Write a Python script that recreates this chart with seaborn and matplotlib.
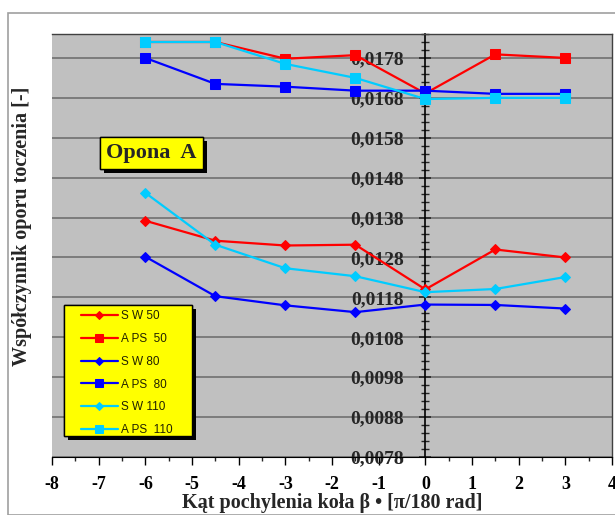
import numpy as np
import pandas as pd
import matplotlib
matplotlib.use('Agg')
import matplotlib.pyplot as plt
import matplotlib.patheffects as pe
from matplotlib.patches import Rectangle
from matplotlib.ticker import FuncFormatter, MultipleLocator, FixedLocator
import seaborn as sns

# dane
beta = [-6, -4.5, -3, -1.5, 0, 1.5, 3]
sw_50 = [0.01372, 0.01322, 0.01310, 0.01312, 0.01200, 0.01300, 0.01280]
aps_50 = [0.01820, 0.01820, 0.01778, 0.01787, 0.01691, 0.01789, 0.01780]
sw_80 = [0.01282, 0.01183, 0.01160, 0.01143, 0.01162, 0.01161, 0.01152]
aps_80 = [0.01780, 0.01715, 0.01708, 0.01698, 0.01698, 0.01690, 0.01690]
sw_110 = [0.01442, 0.01312, 0.01253, 0.01233, 0.01193, 0.01201, 0.01231]
aps_110 = [0.01820, 0.01820, 0.01765, 0.01730, 0.01677, 0.01680, 0.01680]

labels = ['S W 50', 'A PS  50', 'S W 80', 'A PS  80', 'S W 110', 'A PS  110']
series = [sw_50, aps_50, sw_80, aps_80, sw_110, aps_110]
colors = ['#FF0000', '#FF0000', '#0000FF', '#0000FF', '#00CCFF', '#00CCFF']
markers = ['D', 's', 'D', 's', 'D', 's']

sns.set_style('white')
serif = ['Liberation Serif', 'DejaVu Serif']
plt.rcParams['font.family'] = serif
plt.rcParams['font.weight'] = 'bold'
plt.rcParams['axes.unicode_minus'] = False

fig = plt.figure(figsize=(6.15, 5.15), dpi=100)
ax = fig.add_axes([52 / 615, 1 - 457 / 515, 560 / 615, 423 / 515])
ax.set_facecolor('#C0C0C0')

# ramka zewnetrzna
fig.patches.append(Rectangle((8 / 615, 0.0), 1.0, 1 - 13 / 515, transform=fig.transFigure,
                             fill=False, edgecolor='#A0A0A0', linewidth=1.2, zorder=0))

for vals, lab, col, mk in zip(series, labels, colors, markers):
    ms = 5 if mk == 'D' else 6.5
    sns.lineplot(x=beta, y=vals, ax=ax, color=col, marker=mk, markersize=ms,
                 markeredgecolor=col, linewidth=1.6, label=lab, clip_on=False, zorder=3)

ax.set_xlim(-8, 4)
ax.set_ylim(0.0078, 0.0184)

ax.xaxis.set_major_locator(MultipleLocator(1))
ax.xaxis.set_minor_locator(MultipleLocator(0.5))
ax.xaxis.set_major_formatter(FuncFormatter(lambda v, p: f'{v:.0f}'))
ax.yaxis.set_major_locator(FixedLocator(np.arange(0.0078, 0.01845, 0.001)))
ax.yaxis.set_minor_locator(MultipleLocator(0.0002))
ax.yaxis.set_major_formatter(FuncFormatter(lambda v, p: f'{v:.4f}'.replace('.', ',')))

ax.grid(axis='y', which='major', color='#707070', linewidth=1.2)
ax.set_axisbelow(True)

for s in ['top', 'right']:
    ax.spines[s].set_color('#404040')
    ax.spines[s].set_linewidth(1)
ax.spines['bottom'].set_color('black')
ax.spines['left'].set_position(('data', 0))
ax.spines['left'].set_color('black')
ax.spines['left'].set_linewidth(1.2)
ax.spines['left'].set_zorder(2)

ax.tick_params(axis='x', which='major', direction='out', length=6, width=1, bottom=True,
               colors='black', labelsize=13, pad=8)
ax.tick_params(axis='x', which='minor', direction='out', length=3, width=1, bottom=True)
ax.tick_params(axis='y', which='major', direction='inout', length=9, width=1.2, left=True,
               pad=11, labelsize=14)
ax.tick_params(axis='y', which='minor', direction='inout', length=6, width=1, left=True)

ax.set_xlabel('Kąt pochylenia koła β • [π/180 rad]', fontsize=14.5, fontweight='bold', labelpad=0)
fig.text(22 / 615, 1 - 226 / 515, 'Współczynnik oporu toczenia [-]', rotation=90,
         fontsize=14.5, fontweight='bold', ha='center', va='center')

# tlo legendy z cieniem
box = Rectangle((12 / 560, 21 / 423), 128 / 560, 131 / 423, transform=ax.transAxes,
                facecolor='#FFFF00', edgecolor='black', linewidth=1, zorder=4)
box.set_path_effects([pe.withSimplePatchShadow(offset=(3, -3), shadow_rgbFace='black', alpha=1),
                      pe.Normal()])
ax.add_patch(box)

leg = ax.legend(loc='upper left', bbox_to_anchor=(29 / 560, 147 / 423), borderaxespad=0,
                borderpad=0, frameon=False,
                prop={'family': ['Liberation Sans', 'DejaVu Sans'], 'size': 8.5, 'weight': 'normal'},
                handlelength=3.1, handletextpad=0.25, labelspacing=0.92)
leg.set_zorder(5)
for t in leg.get_texts():
    t.set_color('#222200')
for h in leg.legend_handles:
    h.set_markersize(h.get_markersize() * 0.8)

txt = ax.text(0.177, 0.719, 'Opona  A', transform=ax.transAxes, ha='center', va='center',
              fontsize=16, fontweight='bold',
              bbox=dict(boxstyle='square,pad=0.28', facecolor='#FFFF00', edgecolor='black', linewidth=1))
txt.get_bbox_patch().set_path_effects([pe.withSimplePatchShadow(offset=(3, -3), shadow_rgbFace='black', alpha=1),
                                       pe.Normal()])

fig.savefig('out.png', dpi=100)
